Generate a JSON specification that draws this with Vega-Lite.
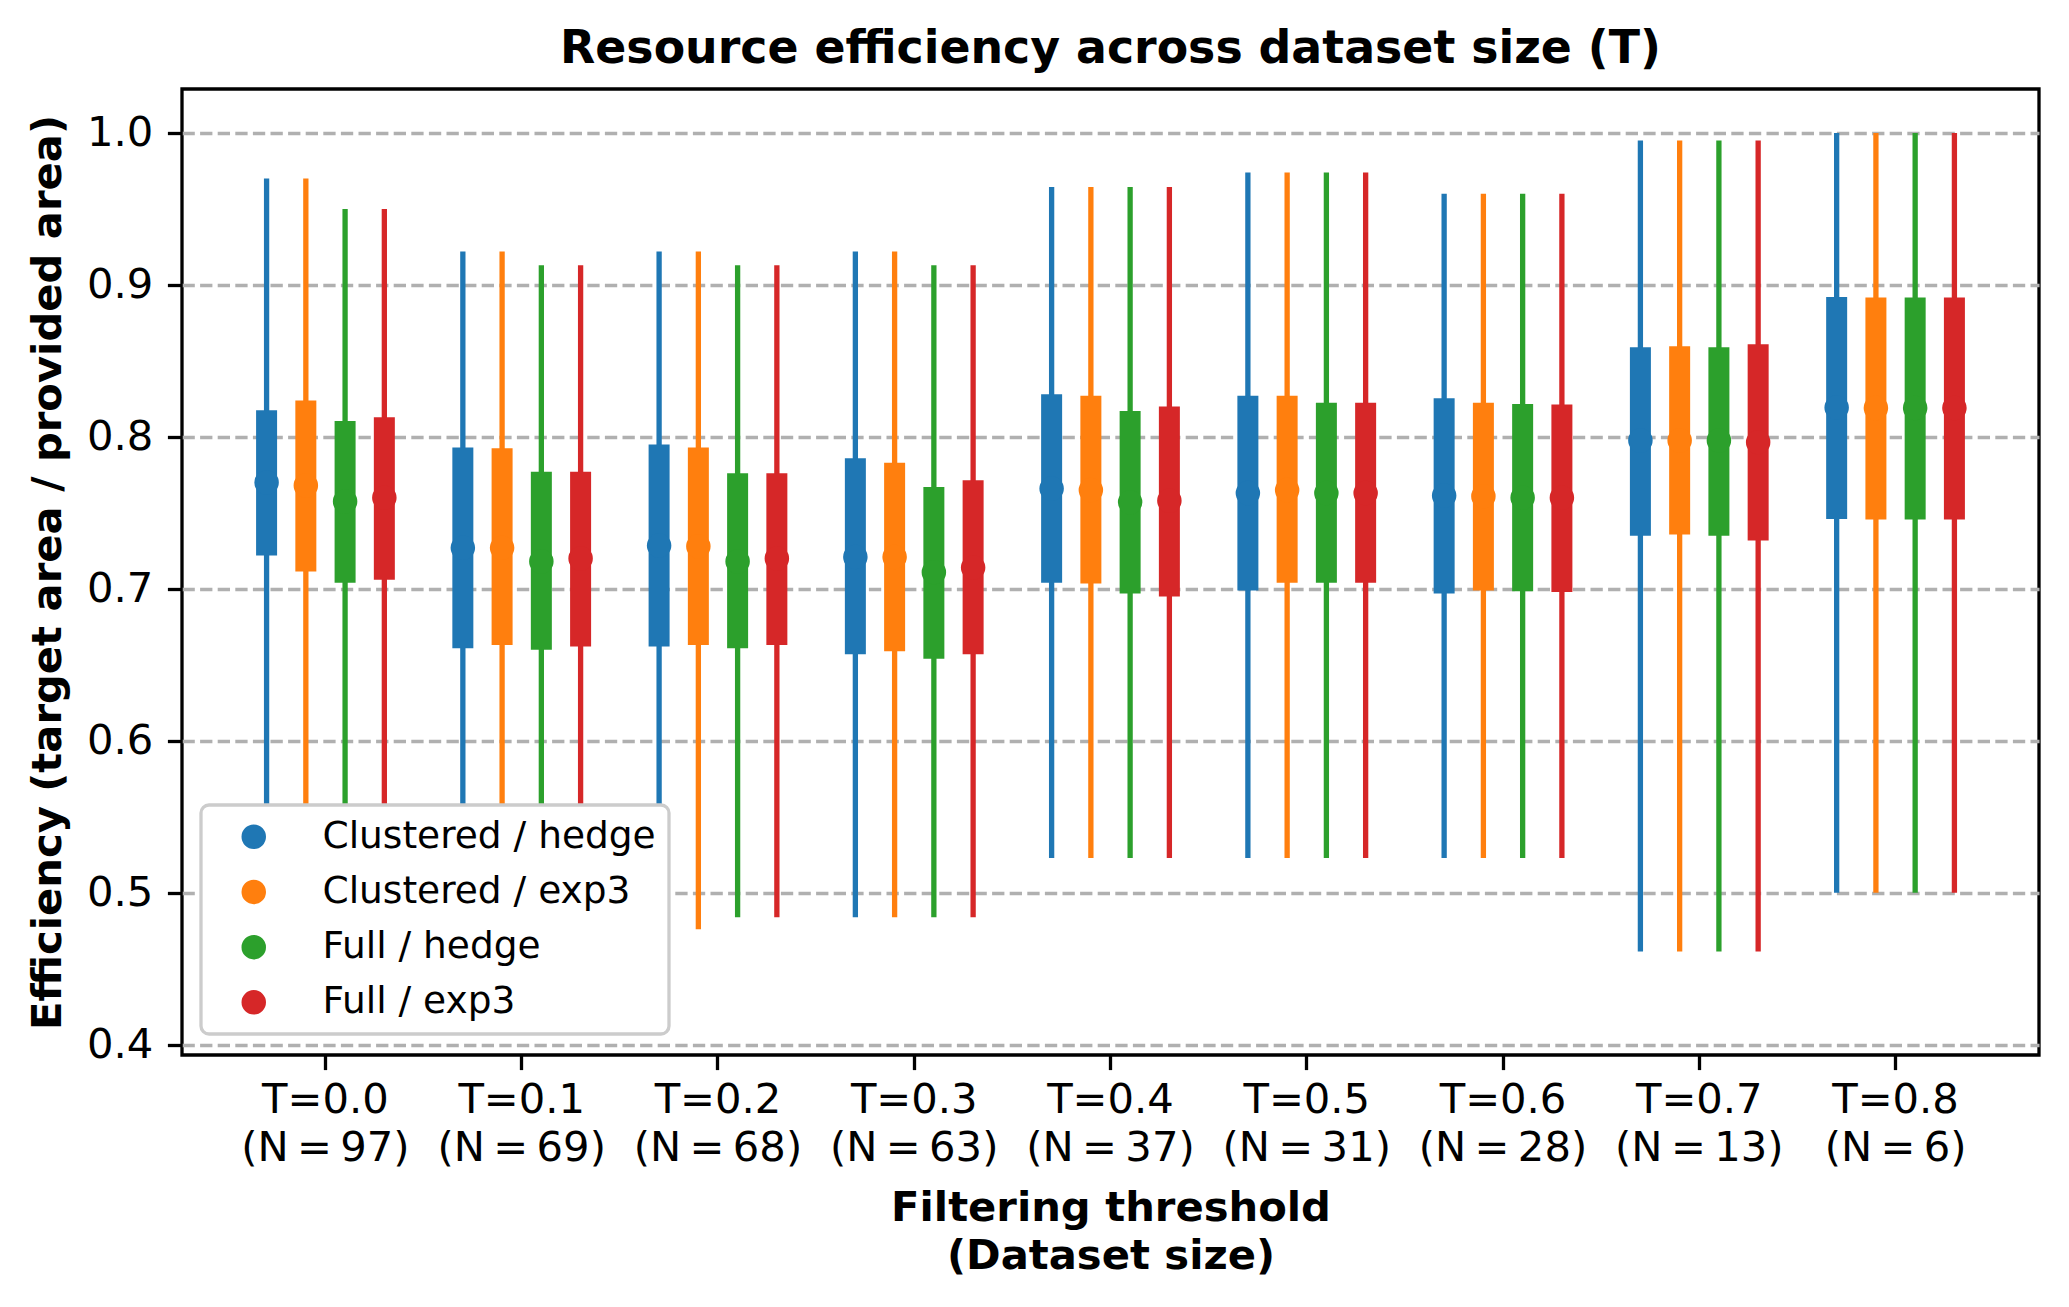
{
  "$schema": "https://vega.github.io/schema/vega-lite/v6.json",
  "autosize": {"type": "none"},
  "width": 1857,
  "height": 966,
  "padding": {"left": 182, "top": 89, "right": 30, "bottom": 252},
  "background": "white",
  "config": {
    "font": "DejaVu Sans",
    "view": {"stroke": "black", "strokeWidth": 3.3},
    "axis": {
      "labelFont": "DejaVu Sans", "labelFontSize": 41.7, "labelColor": "black",
      "titleFont": "DejaVu Sans", "titleFontSize": 41.7, "titleFontWeight": "bold", "titleColor": "black",
      "tickColor": "black", "tickWidth": 3.3, "tickSize": 14.6, "domain": false
    },
    "legend": {
      "labelFont": "DejaVu Sans", "labelFontSize": 37.5, "labelColor": "black"
    },
    "title": {
      "font": "DejaVu Sans", "fontSize": 45.8, "fontWeight": "bold", "color": "black",
      "anchor": "middle", "frame": "group", "baseline": "alphabetic", "offset": 16
    }
  },
  "title": "Resource efficiency across dataset size (T)",
  "data": {
    "values": [
      {"group": "T=0.0 (N\u2009=\u200997)", "series": "Clustered / hedge", "min": 0.422, "q1": 0.722, "med": 0.770, "q3": 0.8175, "max": 0.970},
      {"group": "T=0.0 (N\u2009=\u200997)", "series": "Clustered / exp3", "min": 0.422, "q1": 0.7114, "med": 0.768, "q3": 0.824, "max": 0.970},
      {"group": "T=0.0 (N\u2009=\u200997)", "series": "Full / hedge", "min": 0.422, "q1": 0.704, "med": 0.7575, "q3": 0.8105, "max": 0.950},
      {"group": "T=0.0 (N\u2009=\u200997)", "series": "Full / exp3", "min": 0.422, "q1": 0.706, "med": 0.760, "q3": 0.813, "max": 0.950},

      {"group": "T=0.1 (N\u2009=\u200969)", "series": "Clustered / hedge", "min": 0.484, "q1": 0.661, "med": 0.727, "q3": 0.793, "max": 0.922},
      {"group": "T=0.1 (N\u2009=\u200969)", "series": "Clustered / exp3", "min": 0.484, "q1": 0.663, "med": 0.727, "q3": 0.7925, "max": 0.922},
      {"group": "T=0.1 (N\u2009=\u200969)", "series": "Full / hedge", "min": 0.484, "q1": 0.660, "med": 0.718, "q3": 0.777, "max": 0.913},
      {"group": "T=0.1 (N\u2009=\u200969)", "series": "Full / exp3", "min": 0.484, "q1": 0.662, "med": 0.720, "q3": 0.777, "max": 0.913},

      {"group": "T=0.2 (N\u2009=\u200968)", "series": "Clustered / hedge", "min": 0.484, "q1": 0.662, "med": 0.7285, "q3": 0.795, "max": 0.922},
      {"group": "T=0.2 (N\u2009=\u200968)", "series": "Clustered / exp3", "min": 0.476, "q1": 0.663, "med": 0.728, "q3": 0.793, "max": 0.922},
      {"group": "T=0.2 (N\u2009=\u200968)", "series": "Full / hedge", "min": 0.484, "q1": 0.661, "med": 0.718, "q3": 0.776, "max": 0.913},
      {"group": "T=0.2 (N\u2009=\u200968)", "series": "Full / exp3", "min": 0.484, "q1": 0.663, "med": 0.720, "q3": 0.776, "max": 0.913},

      {"group": "T=0.3 (N\u2009=\u200963)", "series": "Clustered / hedge", "min": 0.484, "q1": 0.657, "med": 0.721, "q3": 0.786, "max": 0.922},
      {"group": "T=0.3 (N\u2009=\u200963)", "series": "Clustered / exp3", "min": 0.484, "q1": 0.659, "med": 0.721, "q3": 0.783, "max": 0.922},
      {"group": "T=0.3 (N\u2009=\u200963)", "series": "Full / hedge", "min": 0.484, "q1": 0.654, "med": 0.711, "q3": 0.767, "max": 0.913},
      {"group": "T=0.3 (N\u2009=\u200963)", "series": "Full / exp3", "min": 0.484, "q1": 0.657, "med": 0.714, "q3": 0.7715, "max": 0.913},

      {"group": "T=0.4 (N\u2009=\u200937)", "series": "Clustered / hedge", "min": 0.523, "q1": 0.704, "med": 0.766, "q3": 0.828, "max": 0.9645},
      {"group": "T=0.4 (N\u2009=\u200937)", "series": "Clustered / exp3", "min": 0.523, "q1": 0.7035, "med": 0.765, "q3": 0.827, "max": 0.9645},
      {"group": "T=0.4 (N\u2009=\u200937)", "series": "Full / hedge", "min": 0.523, "q1": 0.697, "med": 0.757, "q3": 0.817, "max": 0.9645},
      {"group": "T=0.4 (N\u2009=\u200937)", "series": "Full / exp3", "min": 0.523, "q1": 0.695, "med": 0.758, "q3": 0.820, "max": 0.9645},

      {"group": "T=0.5 (N\u2009=\u200931)", "series": "Clustered / hedge", "min": 0.523, "q1": 0.699, "med": 0.763, "q3": 0.827, "max": 0.974},
      {"group": "T=0.5 (N\u2009=\u200931)", "series": "Clustered / exp3", "min": 0.523, "q1": 0.704, "med": 0.765, "q3": 0.827, "max": 0.974},
      {"group": "T=0.5 (N\u2009=\u200931)", "series": "Full / hedge", "min": 0.523, "q1": 0.704, "med": 0.763, "q3": 0.8224, "max": 0.974},
      {"group": "T=0.5 (N\u2009=\u200931)", "series": "Full / exp3", "min": 0.523, "q1": 0.704, "med": 0.763, "q3": 0.8224, "max": 0.974},

      {"group": "T=0.6 (N\u2009=\u200928)", "series": "Clustered / hedge", "min": 0.523, "q1": 0.697, "med": 0.7614, "q3": 0.8254, "max": 0.960},
      {"group": "T=0.6 (N\u2009=\u200928)", "series": "Clustered / exp3", "min": 0.523, "q1": 0.699, "med": 0.761, "q3": 0.8224, "max": 0.960},
      {"group": "T=0.6 (N\u2009=\u200928)", "series": "Full / hedge", "min": 0.523, "q1": 0.6985, "med": 0.760, "q3": 0.8217, "max": 0.960},
      {"group": "T=0.6 (N\u2009=\u200928)", "series": "Full / exp3", "min": 0.523, "q1": 0.698, "med": 0.760, "q3": 0.8213, "max": 0.960},

      {"group": "T=0.7 (N\u2009=\u200913)", "series": "Clustered / hedge", "min": 0.4614, "q1": 0.735, "med": 0.7976, "q3": 0.859, "max": 0.995},
      {"group": "T=0.7 (N\u2009=\u200913)", "series": "Clustered / exp3", "min": 0.4614, "q1": 0.7357, "med": 0.7976, "q3": 0.8596, "max": 0.995},
      {"group": "T=0.7 (N\u2009=\u200913)", "series": "Full / hedge", "min": 0.4614, "q1": 0.735, "med": 0.7976, "q3": 0.859, "max": 0.995},
      {"group": "T=0.7 (N\u2009=\u200913)", "series": "Full / exp3", "min": 0.4614, "q1": 0.7318, "med": 0.7965, "q3": 0.861, "max": 0.995},

      {"group": "T=0.8 (N\u2009=\u20096)", "series": "Clustered / hedge", "min": 0.500, "q1": 0.746, "med": 0.8193, "q3": 0.892, "max": 1.0},
      {"group": "T=0.8 (N\u2009=\u20096)", "series": "Clustered / exp3", "min": 0.500, "q1": 0.7456, "med": 0.819, "q3": 0.8917, "max": 1.0},
      {"group": "T=0.8 (N\u2009=\u20096)", "series": "Full / hedge", "min": 0.500, "q1": 0.7456, "med": 0.819, "q3": 0.8917, "max": 1.0},
      {"group": "T=0.8 (N\u2009=\u20096)", "series": "Full / exp3", "min": 0.500, "q1": 0.7456, "med": 0.819, "q3": 0.8917, "max": 1.0}
    ]
  },
  "resolve": {"legend": {"color": "independent"}},
  "encoding": {
    "x": {
      "field": "group", "type": "nominal", "sort": null,
      "scale": {"paddingInner": 0, "paddingOuter": 0.231},
      "title": ["Filtering threshold", "(Dataset size)"],
      "axis": {
        "labelAngle": 0, "labelPadding": 10, "labelLineHeight": 48, "labelBaseline": "top",
        "labelExpr": "[slice(datum.value, 0, 5), slice(datum.value, 6)]",
        "titleBaseline": "alphabetic", "titleY": 165, "titleLineHeight": 48, "grid": false
      }
    },
    "xOffset": {
      "field": "series", "type": "nominal",
      "sort": ["Clustered / hedge", "Clustered / exp3", "Full / hedge", "Full / exp3"],
      "scale": {"paddingInner": 0, "paddingOuter": 0.5}
    }
  },
  "layer": [
    {
      "mark": {"type": "rule", "strokeWidth": 5.3},
      "encoding": {
        "y": {
          "field": "min", "type": "quantitative",
          "scale": {"domain": [0.3933, 1.0289], "nice": false, "zero": false},
          "title": "Efficiency (target area / provided area)",
          "axis": {
            "values": [0.4, 0.5, 0.6, 0.7, 0.8, 0.9, 1.0], "format": ".1f",
            "grid": true, "gridColor": "#b0b0b0", "gridWidth": 3.3, "gridDash": [12.3, 5.3],
            "labelPadding": 14.6,
            "titleAngle": 270, "titleBaseline": "alphabetic", "titleAlign": "center",
            "titleX": -121.5, "titleY": 483
          }
        },
        "y2": {"field": "max"},
        "color": {"field": "series", "type": "nominal", "legend": null,
          "scale": {
            "domain": ["Clustered / hedge", "Clustered / exp3", "Full / hedge", "Full / exp3"],
            "range": ["#1f77b4", "#ff7f0e", "#2ca02c", "#d62728"]
          }}
      }
    },
    {
      "mark": {"type": "rule", "strokeWidth": 21},
      "encoding": {
        "y": {"field": "q1", "type": "quantitative"},
        "y2": {"field": "q3"},
        "color": {"field": "series", "type": "nominal", "legend": null,
          "scale": {
            "domain": ["Clustered / hedge", "Clustered / exp3", "Full / hedge", "Full / exp3"],
            "range": ["#1f77b4", "#ff7f0e", "#2ca02c", "#d62728"]
          }}
      }
    },
    {
      "mark": {"type": "point", "shape": "circle", "filled": true, "opacity": 1, "size": 600, "strokeWidth": 0},
      "encoding": {
        "y": {"field": "med", "type": "quantitative"},
        "color": {
          "field": "series", "type": "nominal",
          "scale": {
            "domain": ["Clustered / hedge", "Clustered / exp3", "Full / hedge", "Full / exp3"],
            "range": ["#1f77b4", "#ff7f0e", "#2ca02c", "#d62728"]
          },
          "legend": {
            "title": null, "orient": "none", "legendX": 19, "legendY": 716,
            "fillColor": "white", "strokeColor": "#cccccc", "cornerRadius": 8,
            "padding": 13, "rowPadding": 16.2, "symbolType": "circle", "symbolSize": 600,
            "symbolOffset": 21, "labelOffset": 50, "labelLimit": 700, "symbolStrokeWidth": 0,
            "symbolOpacity": 1,
            "encode": {"legend": {"update": {"strokeWidth": {"value": 3.3}}}}
          }
        }
      }
    }
  ]
}
